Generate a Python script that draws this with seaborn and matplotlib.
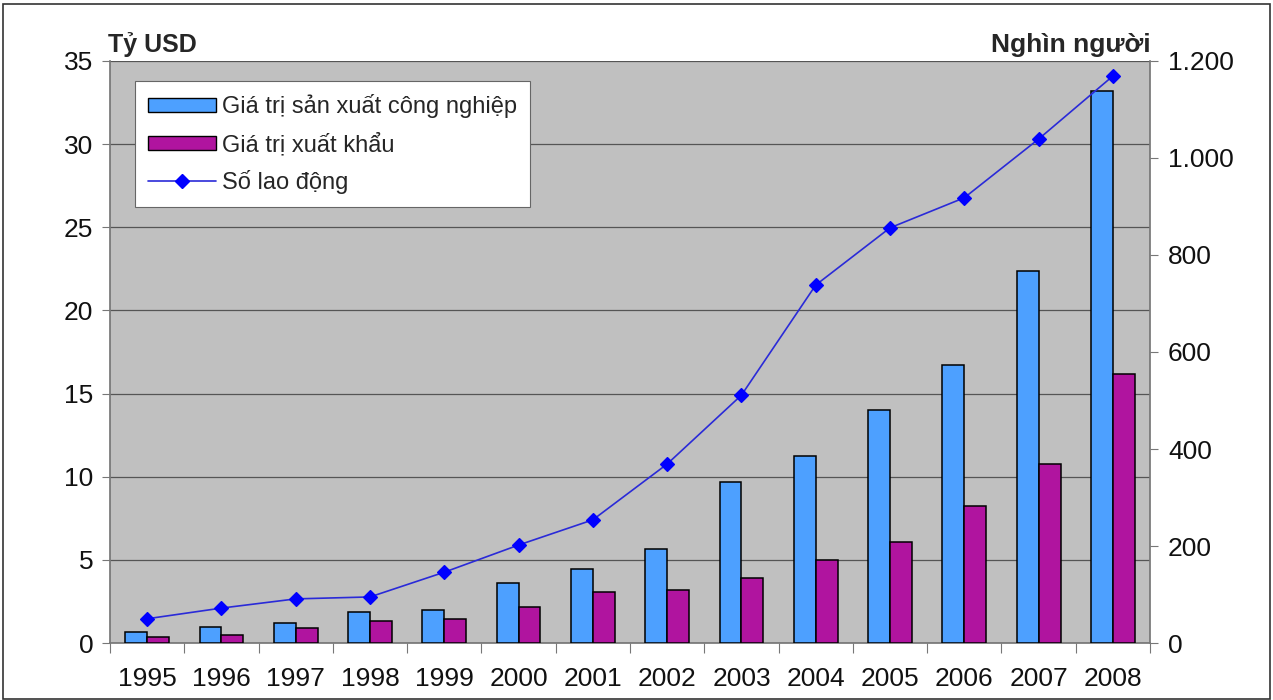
import numpy as np
import pandas as pd
import seaborn as sns
import matplotlib.pyplot as plt
from matplotlib.ticker import FuncFormatter, FixedLocator
from matplotlib.patches import Rectangle, Patch
from matplotlib.lines import Line2D

years = ["1995", "1996", "1997", "1998", "1999", "2000", "2001",
         "2002", "2003", "2004", "2005", "2006", "2007", "2008"]
production = [0.66, 0.96, 1.2, 1.86, 1.98, 3.6, 4.45, 5.65, 9.68, 11.25, 14.0, 16.72, 22.4, 33.2]
exports = [0.36, 0.48, 0.9, 1.32, 1.44, 2.16, 3.07, 3.19, 3.9, 4.99, 6.07, 8.24, 10.76, 16.18]
workers = [50, 72, 91, 95, 146, 202, 254, 369, 511, 738, 856, 918, 1039, 1169]

lbl_prod = "Giá trị sản xuất công nghiệp"
lbl_exp = "Giá trị xuất khẩu"
lbl_work = "Số lao động"

c_prod = "#4DA0FF"
c_exp = "#B0149F"
c_line = "#2A2AD8"
c_mark = "#0000FF"

sns.set_theme(style="white")
plt.rcParams["font.family"] = ["Liberation Sans", "DejaVu Sans"]

df = pd.DataFrame({
    "year": years * 2,
    "value": production + exports,
    "series": [lbl_prod] * len(years) + [lbl_exp] * len(years),
})

fig = plt.figure(figsize=(12.73, 7), dpi=100)
ax = fig.add_axes([0.0864, 0.0814, 0.8170, 0.8315])
ax.set_facecolor("#C0C0C0")

sns.barplot(data=df, x="year", y="value", hue="series",
            palette=[c_prod, c_exp], saturation=1, width=0.59, gap=0,
            edgecolor="black", linewidth=1.1, ax=ax, legend=False, zorder=3)

ax.set_ylim(0, 35)
ax.set_xlim(-0.5, len(years) - 0.5)
ax.set_yticks(np.arange(0, 36, 5))
ax.yaxis.grid(True, color="#555555", linewidth=0.9)
ax.set_axisbelow(True)
ax.set_xlabel("")
ax.set_ylabel("")

# category ticks sit between the groups, Excel style
ax.xaxis.set_minor_locator(FixedLocator(np.arange(-0.5, len(years), 1)))
ax.tick_params(axis="x", which="major", length=0, labelsize=19, pad=17, colors="#111111")
ax.tick_params(axis="x", which="minor", length=7, width=0.8, color="#777777", bottom=True)
ax.tick_params(axis="y", length=6, width=0.8, color="#777777", labelsize=19,
               left=True, pad=6, labelcolor="#111111")

for s in ["top", "right"]:
    ax.spines[s].set_visible(False)
ax.spines["bottom"].set_color("#777777")
ax.spines["left"].set_color("#777777")

ax2 = ax.twinx()
sns.pointplot(x=years, y=workers, ax=ax2, color=c_line, markers="D",
              linewidth=1.2, markersize=7, markerfacecolor=c_mark,
              markeredgecolor=c_mark, zorder=5)
ax2.set_ylim(0, 1200)
ax2.set_xlim(-0.5, len(years) - 0.5)
ax2.set_yticks(np.arange(0, 1201, 200))
ax2.yaxis.set_major_formatter(FuncFormatter(lambda v, p: f"{int(v):,}".replace(",", ".")))
ax2.tick_params(axis="y", length=6, width=0.8, color="#777777", labelsize=19,
                right=True, pad=7, labelcolor="#111111")
for s in ["top", "left", "bottom"]:
    ax2.spines[s].set_visible(False)
ax2.spines["right"].set_color("#777777")
ax2.set_ylabel("")

fig.text(0.085, 0.918, "Tỷ USD", fontsize=18, fontweight="bold", ha="left", va="bottom")
fig.text(0.904, 0.918, "Nghìn người", fontsize=19, fontweight="bold", ha="right", va="bottom")

handles = [
    Patch(facecolor=c_prod, edgecolor="black", linewidth=1.0),
    Patch(facecolor=c_exp, edgecolor="black", linewidth=1.0),
    Line2D([0], [0], color=c_line, linewidth=1.2, marker="D", markersize=7,
           markerfacecolor=c_mark, markeredgecolor=c_mark),
]
leg = ax2.legend(handles, [lbl_prod, lbl_exp, lbl_work], loc="upper left",
                 bbox_to_anchor=(0.024, 0.965), fontsize=17, frameon=True,
                 fancybox=False, edgecolor="#666666", framealpha=1,
                 handlelength=2.9, handleheight=0.55, labelspacing=0.6,
                 borderpad=0.55, handletextpad=0.25, borderaxespad=0)
leg.get_frame().set_linewidth(0.8)

fig.patches.append(Rectangle((0.002, 0.002), 0.996, 0.993, transform=fig.transFigure,
                             fill=False, edgecolor="#333333", linewidth=1.2))

fig.savefig("out.png", dpi=100)
